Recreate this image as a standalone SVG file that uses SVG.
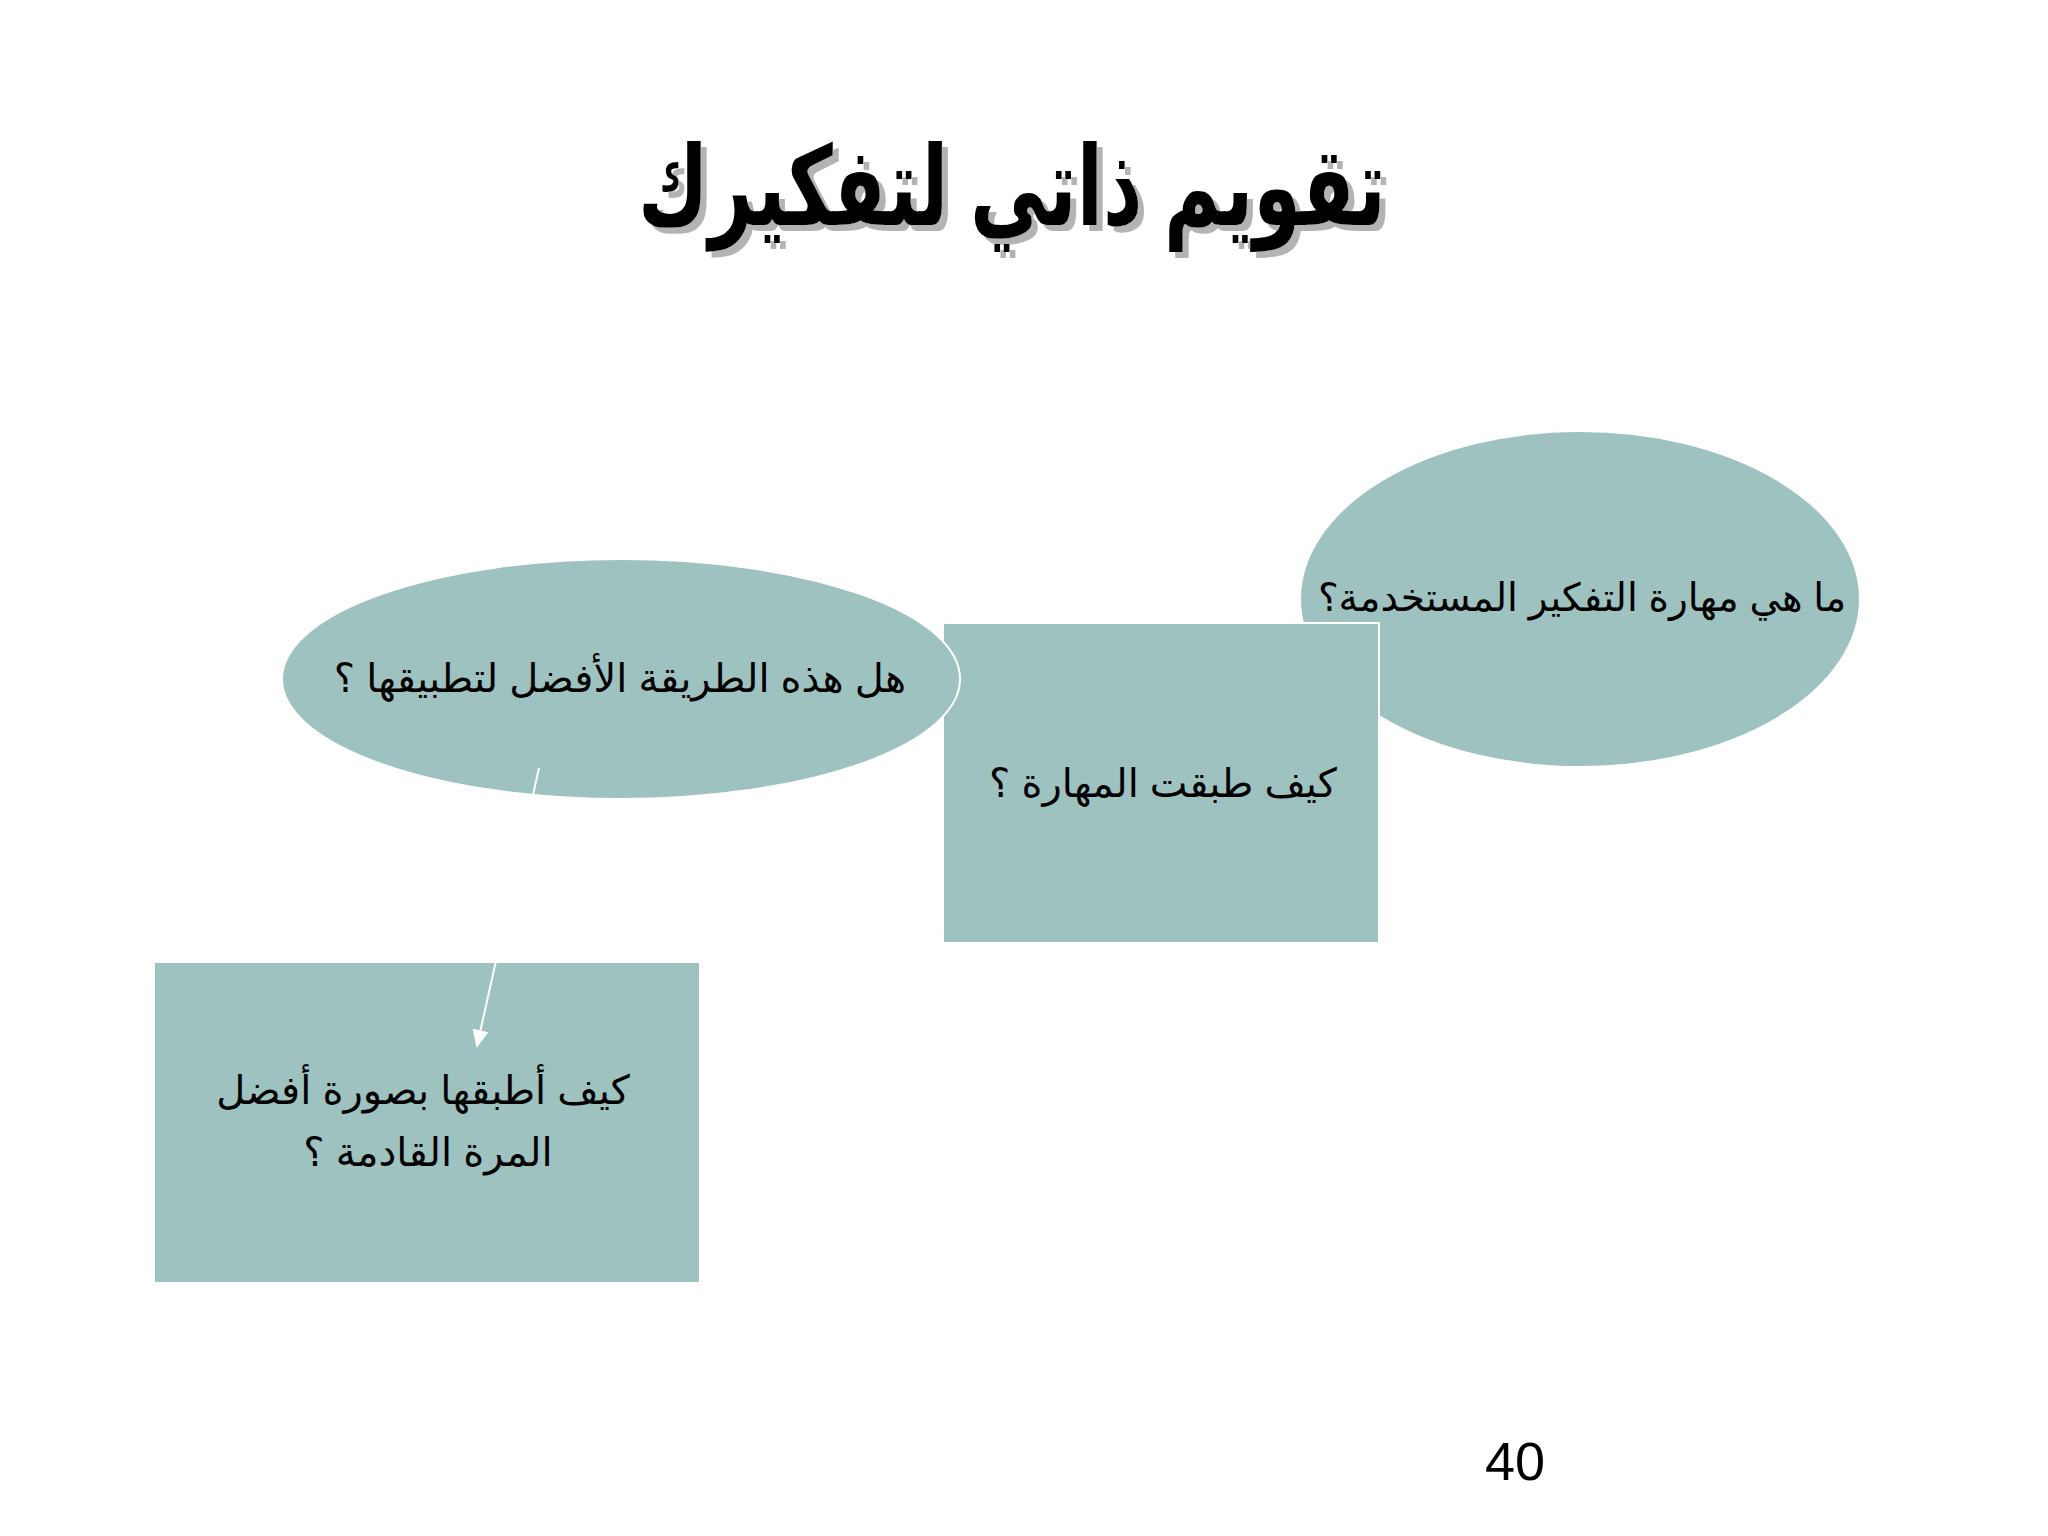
<svg xmlns="http://www.w3.org/2000/svg" width="2048" height="1536" viewBox="0 0 2048 1536">
<style>
.shape{fill:#9EC2C0;stroke:#FFFFFF;stroke-width:2}
.lbl{font-family:"Liberation Sans","DejaVu Sans",sans-serif;font-size:40px;fill:#000000;text-anchor:middle}
.title{font-family:"Liberation Sans","DejaVu Sans",sans-serif;font-size:110px;font-weight:bold;text-anchor:middle}
</style>
<defs>
<marker id="arr" markerWidth="18" markerHeight="18" refX="16" refY="8" orient="auto" markerUnits="userSpaceOnUse" viewBox="0 0 18 16">
<path d="M0,0 L18,8 L0,16 z" fill="#FFFFFF"/>
</marker>
<filter id="shadow" x="-10%" y="-30%" width="120%" height="160%">
<feOffset in="SourceAlpha" dx="6" dy="6" result="off"/>
<feFlood flood-color="#B3B3B3"/>
<feComposite in2="off" operator="in" result="sh"/>
<feMerge><feMergeNode in="sh"/><feMergeNode in="SourceGraphic"/></feMerge>
</filter>
</defs>
<rect x="0" y="0" width="2048" height="1536" fill="#FFFFFF"/>
<g id="title" filter="url(#shadow)">
<text class="title" transform="translate(1012,225) scale(0.7,1)" x="0" y="0" fill="#000000" direction="rtl">تقويم ذاتي لتفكيرك</text>
</g>
<g id="node-skill">
<ellipse class="shape" cx="1580" cy="599" rx="280" ry="168"/>
<text class="lbl" x="1582" y="611" font-size="39" style="font-size:39px" direction="rtl">ما هي مهارة التفكير المستخدمة؟</text>
</g>
<g id="node-applied">
<rect class="shape" x="943" y="623" width="436" height="320"/>
<text class="lbl" x="1163" y="797" direction="rtl">كيف طبقت المهارة ؟</text>
</g>
<g id="node-best">
<ellipse class="shape" cx="621" cy="679" rx="339" ry="120"/>
<text class="lbl" x="620" y="692" direction="rtl">هل هذه الطريقة الأفضل لتطبيقها ؟</text>
</g>
<g id="node-next">
<rect class="shape" x="154" y="962" width="546" height="321"/>
<text class="lbl" x="423" y="1104" direction="rtl">كيف أطبقها بصورة أفضل</text>
<text class="lbl" x="428" y="1166" direction="rtl">المرة القادمة ؟</text>
</g>
<g id="connectors">
<line x1="539" y1="768" x2="477" y2="1046" stroke="#FFFFFF" stroke-width="2" marker-end="url(#arr)"/>
</g>
<text x="1515" y="1480" font-family="Liberation Sans, Arial, sans-serif" font-size="54" text-anchor="middle" fill="#000000">40</text>
</svg>
